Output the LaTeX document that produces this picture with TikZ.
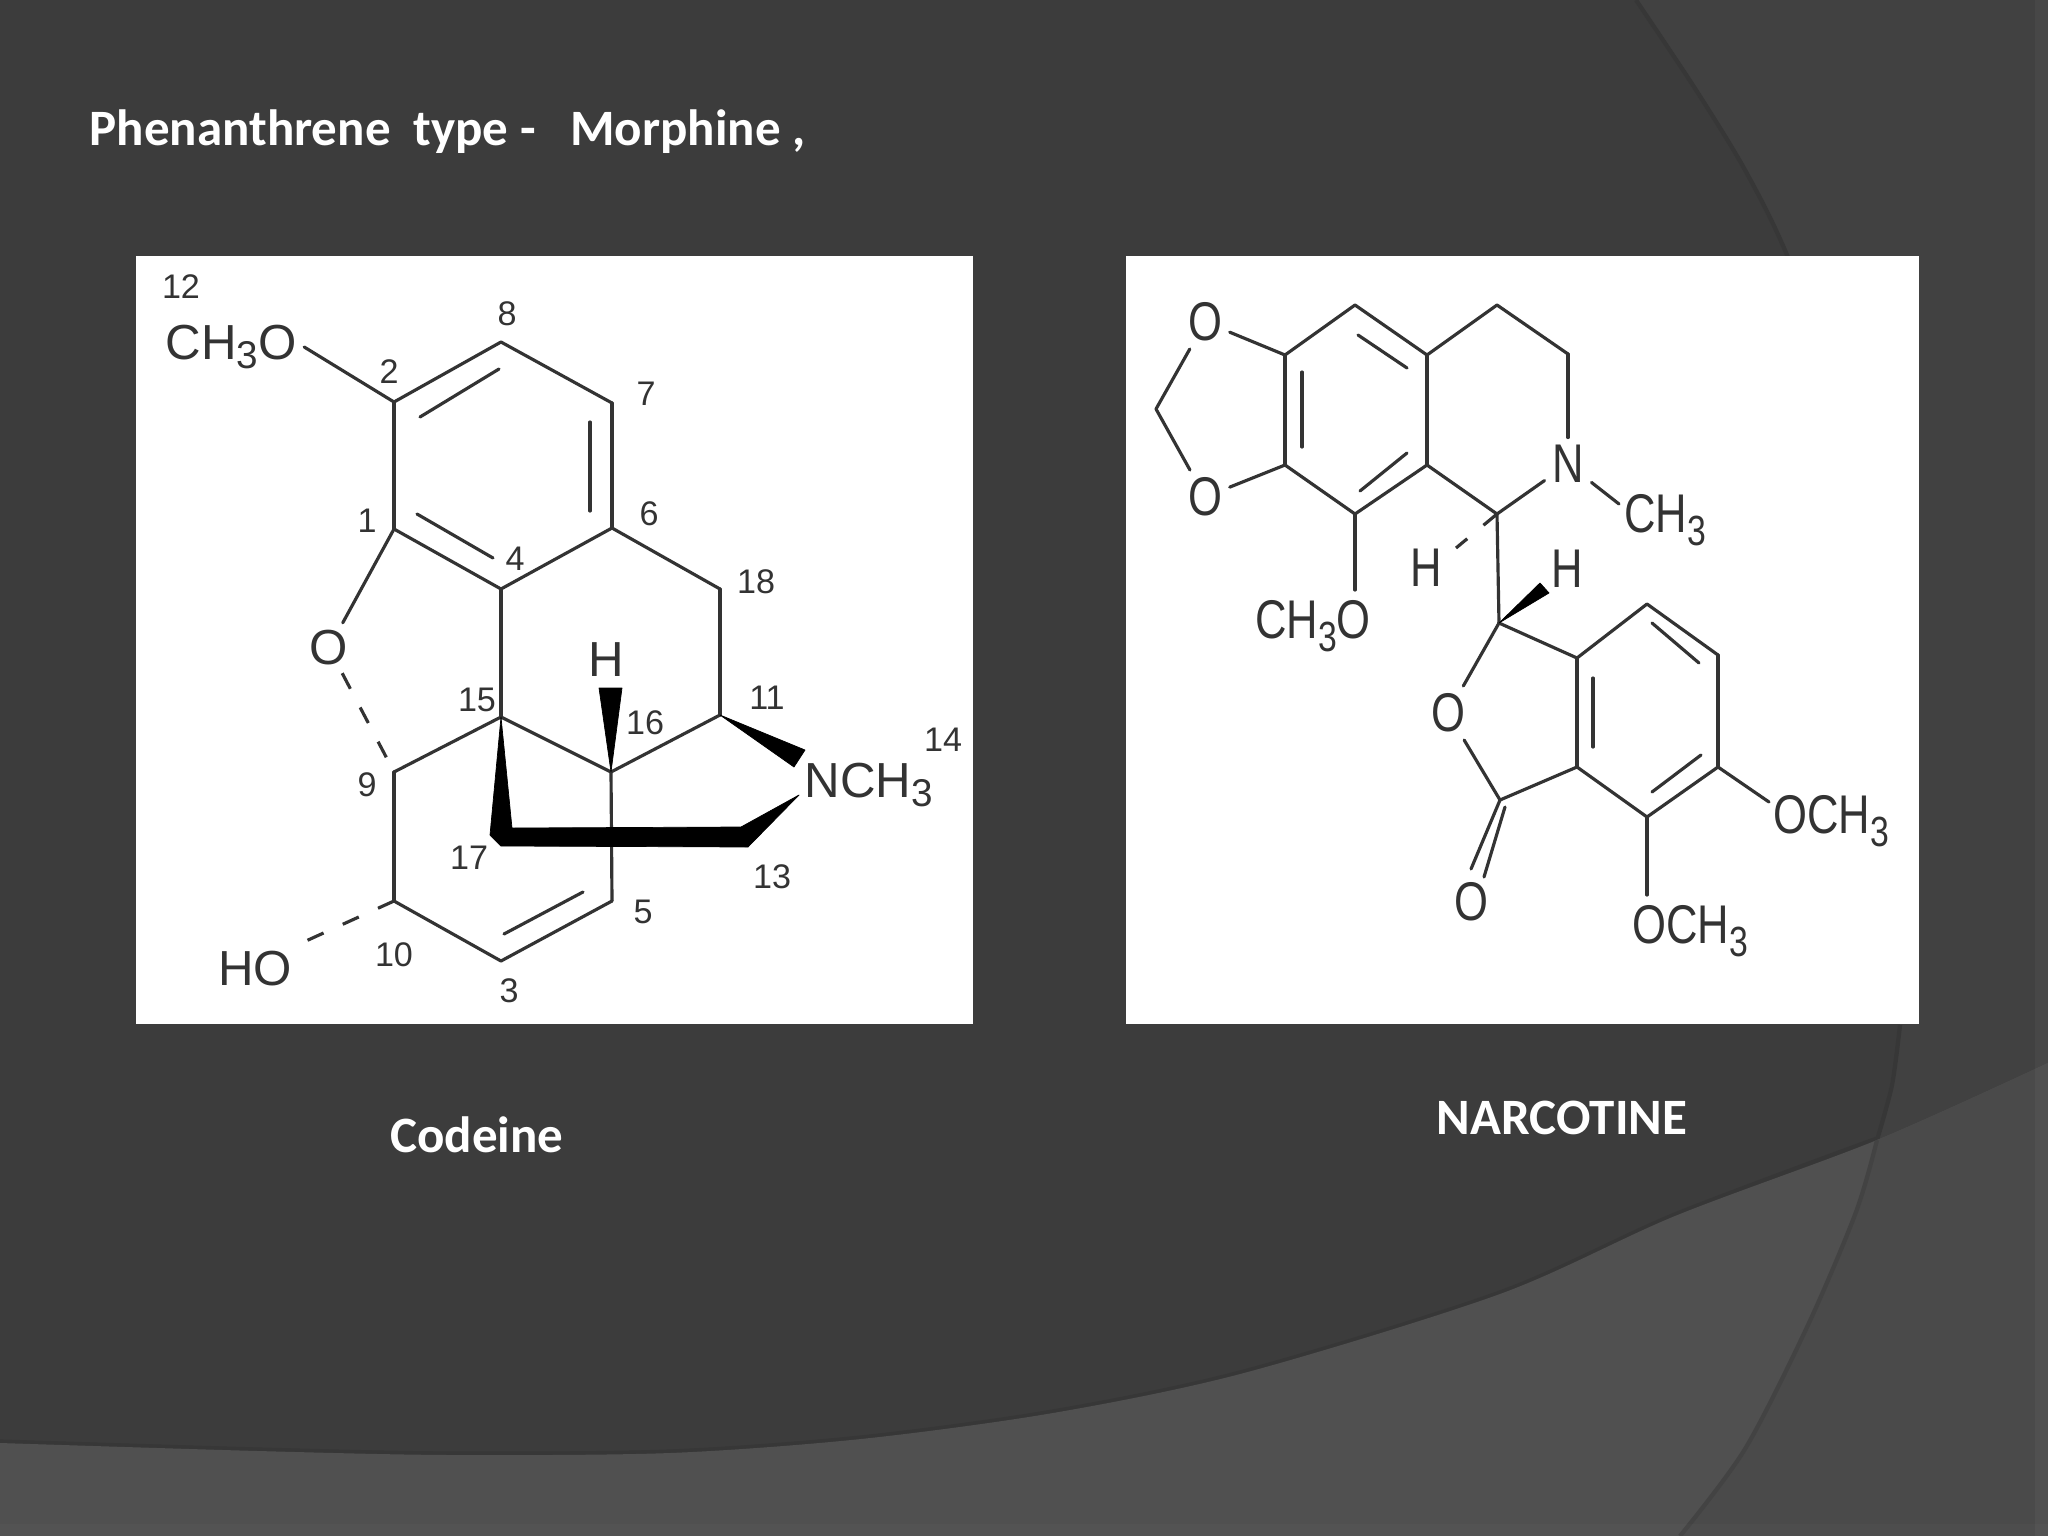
\documentclass[tikz,border=0pt]{standalone}
\usepackage{fontspec}
\setmainfont{Carlito}
\newfontfamily\chemfont{Liberation Sans}
\newfontfamily\chemslim[FakeStretch=0.8]{Liberation Sans}
\newcommand{\subthree}{\raisebox{-0.35ex}{\fontsize{11}{11}\selectfont 3}}
\newcommand{\subthreeslim}{\raisebox{-0.45ex}{\fontsize{12}{12}\selectfont 3}}
\definecolor{slidebase}{HTML}{3C3C3C}
\definecolor{slideright}{HTML}{414141}
\definecolor{slideband}{HTML}{505050}
\definecolor{slidecorner}{HTML}{4A4A4A}
\definecolor{slideshade}{HTML}{373737}
\definecolor{chemink}{HTML}{333333}
\begin{document}
\begin{tikzpicture}[x=0.01cm,y=-0.01cm,
		slidetext/.style = {text=white, font=\fontsize{14.5}{16}\selectfont\bfseries, inner sep=0pt},
		plate/.style = {fill=white},
		atomlab/.style = {text=chemink, font=\chemfont\fontsize{14}{15}\selectfont, inner sep=2pt},
		slimlab/.style = {text=chemink, font=\chemslim\fontsize{15.5}{17}\selectfont, inner sep=2pt},
		numlab/.style = {text=chemink, font=\chemfont\fontsize{9.7}{11}\selectfont, inner sep=0pt},
		bond/.style = {draw=chemink, line width=0.9pt, line cap=round, line join=round},
		hashed/.style = {bond, line cap=butt, dash pattern=on 5pt off 6pt},
		solidfill/.style = {fill=black, draw=black, line width=0.2pt, line join=round}]
	\useasboundingbox (0,0) rectangle (2048,1536);
	\fill[slidebase] (0,0) rectangle (2048,1536);
	\fill[slideright] plot[smooth] coordinates {(1636,0) (1696,90) (1745,170) (1787,255) (1850,420) (1895,650) (1908,850) (1900,1025) (1877,1140) (1856,1212) (1808,1325) (1745,1449) (1680,1536)} -- (2048,1536) -- (2048,0) -- cycle;
	\draw[slideshade, line width=1.2pt] plot[smooth] coordinates {(1636,0) (1696,90) (1745,170) (1787,255) (1850,420)};
	\draw[slideshade, line width=1.2pt] plot[smooth] coordinates {(1900,1025) (1892,1085) (1877,1140)};
	\draw[slideshade, line width=1.5pt] plot[smooth] coordinates {(0,1442) (258,1450) (450,1454) (670,1452) (861,1438) (1053,1412) (1244,1372) (1500,1293) (1675,1215) (1877,1139)};
	\fill[slideband] plot[smooth] coordinates {(0,1443) (258,1451) (450,1455) (670,1453) (861,1439) (1053,1413) (1244,1373) (1500,1294) (1675,1216) (1877,1140) (2048,1063)} -- (2048,1536) -- (0,1536) -- cycle;
	\begin{scope}
		\clip plot[smooth] coordinates {(0,1443) (258,1451) (450,1455) (670,1453) (861,1439) (1053,1413) (1244,1373) (1500,1294) (1675,1216) (1877,1140) (2048,1063)} -- (2048,1536) -- (0,1536) -- cycle;
		\fill[slidecorner] plot[smooth] coordinates {(1900,1025) (1877,1140) (1856,1212) (1808,1325) (1745,1449) (1680,1536)} -- (2048,1536) -- (2048,1025) -- cycle;
		\draw[slidecorner!90!black, line width=1.2pt] plot[smooth] coordinates {(1877,1140) (1856,1212) (1808,1325) (1745,1449) (1680,1536)};
	\end{scope}
	\fill[white, opacity=0.035] (2035,0) rectangle (2048,1536);
	\fill[white, opacity=0.02] (0,1524) rectangle (2048,1536);

	\node[slidetext, anchor=base west] (title) at (89,145) {Phenanthrene\ \ type -\ \ \ Morphine ,};
	\node[slidetext] (codeine) at (477,1135) {Codeine};
	\node[slidetext] (narcotine) at (1562,1118) {NARCOTINE};

	\fill[plate] (136,256) rectangle (973,1024);
	\fill[plate] (1126,256) rectangle (1919,1024);

	\foreach \nm/\px/\py in {c1/394/529, c2/394/402, c3/501/961, c4/501/589, c5/612/901, c6/612/528, c7/612/403, c8/501/342,
			c9/394/772, c10/394/901, c11/720/715, c13/742/840, c15/501/717, c16/611/772, c17/501/840, c18/720/589,
			d1/420/417, d2/499/369, d3/590/422, d4/590/511, d5/417/514, d6/493/558, d7/504/934, d8/583/892,
			w1/805/750, w2/794/767, w3/599/688, w4/622/688,
			b1/512/828, b2/741/827, b3/799/795, b4/748/847, b5/501/846, b6/490/835}
		\coordinate (\nm) at (\px,\py);

	\node[atomlab] (ch3o) at (231,347) {CH\subthree O};
	\node[atomlab] (oxa) at (329,648) {O};
	\node[atomlab] (hup) at (606,660) {H};
	\node[atomlab, anchor=west, inner sep=0pt] (nch3) at (804,785) {NCH\subthree};
	\node[atomlab] (ho) at (255,969) {HO};
	\foreach \num/\px/\py in {12/181/287, 8/507/314, 7/646/394, 2/389/372, 1/367/521, 4/515/559, 6/649/514, 18/756/582,
			15/477/700, 16/645/723, 11/767/698, 14/943/740, 9/367/785, 17/469/858, 13/772/877, 5/643/912, 10/394/955, 3/509/991}
		\node[numlab] (n\num) at (\px,\py) {\num};

	\foreach \a/\b in {c2/c8, c8/c7, c7/c6, c6/c4, c4/c1, c1/c2, c6/c18, c18/c11, c11/c16, c16/c15, c15/c9, c15/c4,
			c9/c10, c10/c3, c3/c5, c5/c16, c1/oxa, c2/ch3o.east, d1/d2, d3/d4, d5/d6, d7/d8}
		\draw[bond] (\a) -- (\b);
	\draw[hashed] (oxa) -- (c9);
	\draw[hashed] (c10) -- (ho.north east);
	\fill[solidfill] (c11) -- (w1) -- (w2) -- cycle;
	\fill[solidfill] (c16) -- (w3) -- (w4) -- cycle;
	\fill[solidfill] (c15) -- (b1) -- (b2) -- (b3) -- (b4) -- (b5) -- (b6) -- cycle;

	\foreach \nm/\px/\py in {a1/1285/355, a2/1355/305, a3/1427/355, a4/1427/465, a5/1355/514, a6/1285/465,
			e1/1497/305, e2/1568/354, e3/1497/514, e4/1156/409,
			f1/1499/623, f2/1577/658, f3/1647/604, f4/1718/655, f5/1718/767, f6/1647/817, f7/1577/767, f8/1500/800,
			g1/1302/372, g2/1302/447, g3/1358/335, g4/1407/368, g5/1360/491, g6/1407/453,
			g7/1593/678, g8/1593/747, g9/1652/623, g10/1699/663, g11/1652/792, g12/1701/755,
			k1/1505/807, k2/1540/583, k3/1549/593, k4/1471/869, k5/1484/877,
			m1/1619/504, m2/1355/590, m3/1769/802, m4/1647/895, m5/1456/548}
		\coordinate (\nm) at (\px,\py);

	\node[slimlab] (oa) at (1205,322) {O};
	\node[slimlab] (ob) at (1205,497) {O};
	\node[slimlab] (nb) at (1568,464) {N};
	\node[slimlab] (ch3a) at (1665,520) {CH\subthreeslim};
	\node[slimlab] (ch3ob) at (1313,626) {CH\subthreeslim O};
	\node[slimlab] (hb) at (1426,568) {H};
	\node[slimlab] (hc) at (1567,569) {H};
	\node[slimlab] (ol) at (1448,713) {O};
	\node[slimlab] (oc) at (1471,902) {O};
	\node[slimlab] (och3a) at (1831,821) {OCH\subthreeslim};
	\node[slimlab] (och3b) at (1690,931) {OCH\subthreeslim};

	\foreach \a/\b in {a1/a2, a2/a3, a3/a4, a4/a5, a5/a6, a6/a1, a3/e1, e1/e2, e2/nb, nb/e3, e3/a4, oa/a1, ob/a6, oa/e4, ob/e4,
			nb/m1, a5/m2, e3/f1, f1/f2, f2/f3, f3/f4, f4/f5, f5/f6, f6/f7, f7/f2, f7/f8, f8/ol, ol/f1,
			f5/m3, f6/m4, f8/k4, k1/k5, g1/g2, g3/g4, g5/g6, g7/g8, g9/g10, g11/g12}
		\draw[bond] (\a) -- (\b);
	\draw[hashed] (e3) -- (m5);
	\fill[solidfill] (f1) -- (k2) -- (k3) -- cycle;
\end{tikzpicture}
\end{document}
